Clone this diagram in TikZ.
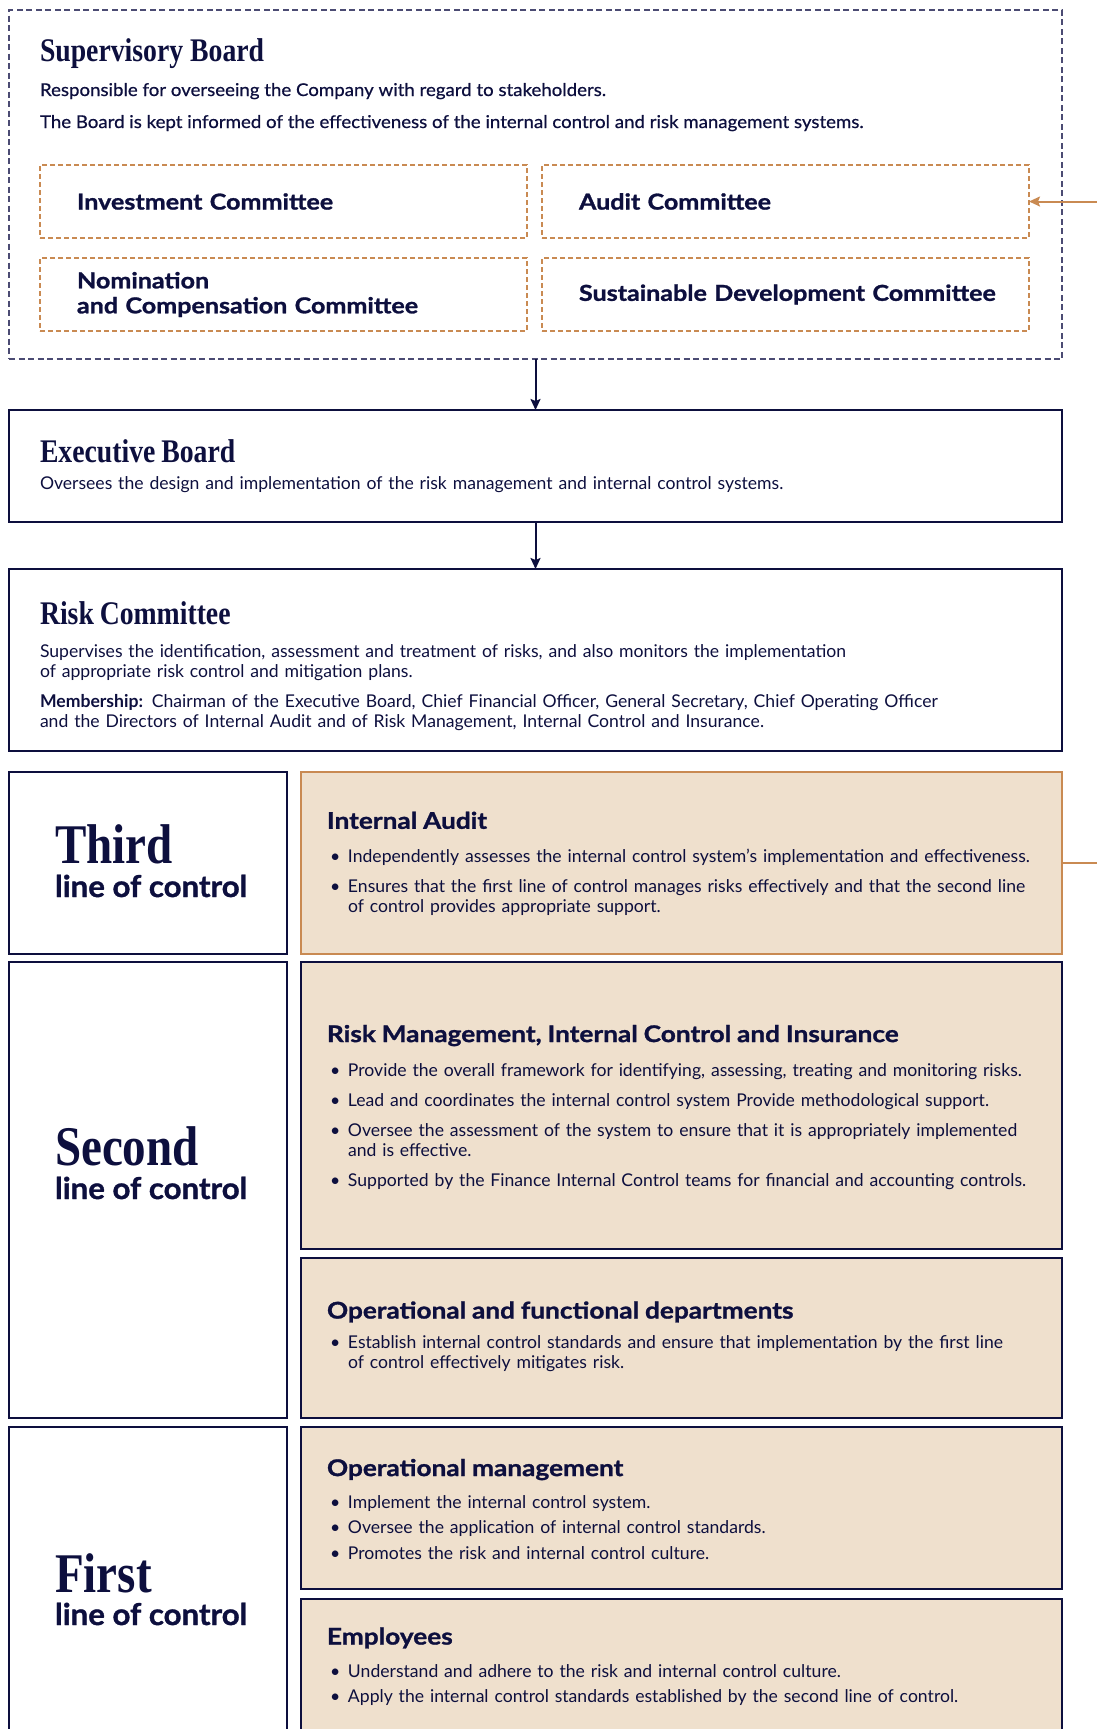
\documentclass[tikz,border=0pt]{standalone}
\usepackage{fontspec}
\setmainfont{Lato}
\newfontfamily\titleserif[FakeStretch=0.84,UprightFont={* Bold}]{Liberation Serif}
\newfontfamily\headsans[FakeStretch=1.14,FakeBold=1.2,UprightFont={* Bold}]{Lato}
\newfontfamily\lineofsans[FakeStretch=1.04,FakeBold=1.2,UprightFont={* Bold}]{Lato}
\newfontfamily\leadsans[FakeStretch=1.06,FakeBold=0.6]{Lato}
\usetikzlibrary{positioning}
\usetikzlibrary{arrows.meta}

\definecolor{navy}{RGB}{13,15,62}
\definecolor{copper}{RGB}{201,138,82}
\definecolor{sand}{RGB}{239,224,205}
\definecolor{slate}{RGB}{75,75,115}

\newcommand{\boardtitle}[1]{{\titleserif\fontsize{33}{36}\selectfont #1\par}}
\newcommand{\taskhead}[2]{{\headsans\fontsize{23}{26}\selectfont #1\par}\vspace{#2}}
\newcommand{\bul}[1]{\par\noindent\makebox[21pt][l]{\hspace{3pt}\textbullet}%
    \parbox[t]{688pt}{\raggedright #1\strut}\par\prevdepth=\dp\strutbox}

\tikzset{
    every node/.style={outer sep=0pt, text=navy},
    supbox/.style={
        draw=slate, dash pattern=on 6pt off 3.5pt, line width=1.2pt,
        minimum width=1053pt, minimum height=349pt},
    combox/.style={
        draw=copper, dash pattern=on 5pt off 3pt, line width=1.2pt,
        minimum width=487pt, minimum height=73pt,
        inner xsep=37pt, text width=413pt, align=left,
        font=\headsans\fontsize{22}{25}\selectfont},
    boardbox/.style={
        draw=navy, line width=2.5pt,
        minimum width=1053pt, inner xsep=31pt, text width=991pt, align=left,
        font=\fontsize{17.6}{20}\selectfont,
        execute at begin node={\parindent=0pt\parskip=0pt}},
    linebox/.style={
        draw=navy, line width=2.5pt, minimum width=278pt},
    taskbox/.style={
        draw=navy, fill=sand, line width=2.5pt,
        minimum width=761pt, inner xsep=26pt, text width=709pt, align=left,
        font=\fontsize{17.6}{20}\selectfont,
        execute at begin node={\parindent=0pt\parskip=10pt}},
    tight/.style={
        execute at begin node={\parindent=0pt\parskip=5.5pt}},
    lineword/.style={anchor=base west, inner sep=0pt,
        font=\titleserif\fontsize{56}{60}\selectfont},
    lineof/.style={anchor=base west, inner sep=0pt,
        font=\lineofsans\fontsize{30}{34}\selectfont},
    plain/.style={anchor=base west, inner sep=0pt,
        font=\leadsans\fontsize{17.6}{20}\selectfont},
    flow/.style={draw=navy, line width=2pt, -{Stealth[length=11pt,width=10pt,inset=2pt]}},
    feed/.style={draw=copper, line width=2pt, -{Stealth[length=11pt,width=10pt,inset=2pt]}}
}

\begin{document}
\begin{tikzpicture}[x=1pt, y=-1pt]
    \useasboundingbox (0,0) rectangle (1097,1729);
    % supervisory board and its committees
    \node[supbox, anchor=north west] (sup) at (9,10) {};
    \node[plain, font=\titleserif\fontsize{33}{36}\selectfont] (supname) at (40,61) {Supervisory Board};
    \node[plain] (suprole) at (40,96) {Responsible for overseeing the Company with regard to stakeholders.};
    \node[plain] (supinfo) at (40,128) {The Board is kept informed of the effectiveness of the internal control and risk management systems.};
    \node[combox, below right=155pt and 31pt of sup.north west] (inv) {Investment Committee};
    \node[combox, right=15pt of inv] (aud) {Audit Committee};
    \node[combox, below=20pt of inv] (nom) {Nomination\\and Compensation Committee};
    \node[combox, right=15pt of nom] (sus) {\mbox{Sustainable Development Committee}};
    % executive board and risk committee
    \node[boardbox, minimum height=112pt, below=51pt of sup] (exec) {\boardtitle{Executive Board}\vspace{7pt}%
        Oversees the design and implementation of the risk management and internal control systems.};
    \node[boardbox, minimum height=182pt, below=47pt of exec] (risk) {\boardtitle{\rule{0pt}{35pt}Risk Committee}\vspace{13pt}%
        Supervises the identification, assessment and treatment of risks, and also monitors the implementation\break
        of appropriate risk control and mitigation plans.\par\vspace{10.5pt}%
        \textbf{Membership:} Chairman of the Executive Board, Chief Financial Officer, General Secretary, Chief Operating Officer\break
        and the Directors of Internal Audit and of Risk Management, Internal Control and Insurance.};
    % lines of control
    \node[linebox, minimum height=182pt, below right=21pt and 0pt of risk.south west] (third) {};
    \node[taskbox, draw=copper, line width=2pt, minimum height=182pt, right=14pt of third] (ia) {\taskhead{Internal Audit}{3.5pt}%
        \bul{Independently assesses the internal control system's implementation and effectiveness.}%
        \bul{Ensures that the first line of control manages risks effectively and that the second line\\ of control provides appropriate support.}\vspace*{-4pt}};
    \node[linebox, minimum height=456pt, below=8pt of third] (second) {};
    \node[taskbox, minimum height=287pt, below=8pt of ia] (rm) {\taskhead{Risk Management, Internal Control and Insurance}{4pt}%
        \bul{Provide the overall framework for identifying, assessing, treating and monitoring risks.}%
        \bul{Lead and coordinates the internal control system Provide methodological support.}%
        \bul{Oversee the assessment of the system to ensure that it is appropriately implemented\\ and is effective.}%
        \bul{Supported by the Finance Internal Control teams for financial and accounting controls.}\vspace*{-6pt}};
    \node[taskbox, minimum height=160pt, below=9pt of rm] (ofd) {\taskhead{Operational and functional departments}{0pt}%
        \bul{Establish internal control standards and ensure that implementation by the first line\\ of control effectively mitigates risk.}};
    \node[linebox, minimum height=328pt, below=9pt of second] (first) {};
    \node[taskbox, tight, minimum height=162pt, below=9pt of ofd] (om) {\taskhead{Operational management}{6.5pt}%
        \bul{Implement the internal control system.}%
        \bul{Oversee the application of internal control standards.}%
        \bul{Promotes the risk and internal control culture.}\vspace*{-8pt}};
    \node[taskbox, tight, minimum height=156pt, below=10pt of om] (emp) {\taskhead{Employees}{7pt}%
        \bul{Understand and adhere to the risk and internal control culture.}%
        \bul{Apply the internal control standards established by the second line of control.}\vspace*{18pt}};
    \node[lineword] (thirdword) at (55,863) {Third};
    \node[lineof] (thirdline) at (55,897) {line of control};
    \node[lineword] (secondword) at (55,1165) {Second};
    \node[lineof] (secondline) at (55,1199) {line of control};
    \node[lineword] (firstword) at (55,1592) {First};
    \node[lineof] (firstline) at (55,1625) {line of control};
    % connectors
    \draw[flow] (sup) -- (exec);
    \draw[flow] (exec) -- (risk);
    \draw[feed] (ia.east) -- ++(70,0) |- (aud.east);
\end{tikzpicture}
\end{document}
